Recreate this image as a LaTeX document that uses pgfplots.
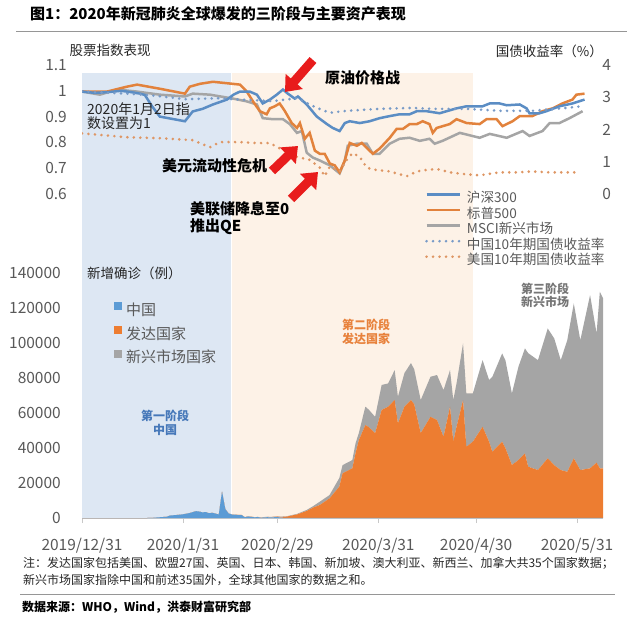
\documentclass[border=0pt]{standalone}
\usepackage{fontspec}
\setmainfont{Noto Sans CJK SC}
\usepackage{pgfplots}
\pgfplotsset{compat=1.18}
\usepackage{pgfplotstable}
\usetikzlibrary{arrows.meta}

\definecolor{hsblue}{RGB}{91,141,196}
\definecolor{spor}{RGB}{226,130,60}
\definecolor{msgray}{RGB}{165,165,165}
\definecolor{cnyld}{RGB}{120,155,200}
\definecolor{usyld}{RGB}{222,150,100}
\definecolor{cnarea}{RGB}{91,155,213}
\definecolor{dvarea}{RGB}{237,125,49}
\definecolor{emarea}{RGB}{165,165,165}
\definecolor{shblue}{RGB}{221,231,243}
\definecolor{shpeach}{RGB}{253,242,231}
\definecolor{tickgray}{RGB}{89,89,89}
\definecolor{axgray}{RGB}{200,200,200}
\definecolor{arrowred}{RGB}{232,28,28}
\definecolor{ph1}{RGB}{70,120,185}
\definecolor{ph2}{RGB}{232,130,60}
\definecolor{ph3}{RGB}{118,118,118}
\definecolor{rulegray}{RGB}{150,150,150}

\newcommand\ticksize{\fontsize{15.5bp}{18bp}\selectfont}

% stock indices, 2020-01-02 = 1 (x = days after 2019-12-31)
\pgfplotstableread{
day val
0 0.997
4 0.992
8 0.995
12 1.000
15 0.995
17.8 0.989
19.3 0.984
21.5 0.940
23.9 0.900
31.6 0.882
34 0.920
37 0.930
40.2 0.947
44.5 0.966
46.5 0.985
48.5 0.997
51.5 0.997
53.7 0.985
55.5 0.951
57.7 0.966
59.8 0.985
61.7 1.005
63.2 0.989
65.3 0.970
66.3 0.978
69 0.947
72.1 0.900
75.2 0.871
77 0.856
79.1 0.844
80.7 0.875
82.2 0.882
85.3 0.875
88.3 0.882
91.4 0.894
94.5 0.902
97.5 0.909
100.6 0.909
102.8 0.921
105.8 0.921
109.8 0.913
115 0.932
118.1 0.940
123 0.940
125.2 0.951
128.2 0.951
130.4 0.944
134.4 0.947
136.5 0.932
137.4 0.913
140.5 0.913
142.6 0.921
146.6 0.940
150.6 0.951
154.3 0.966
}\hsdata

\pgfplotstableread{
day val
0 0.997
7.7 0.997
13.8 1.016
16.9 1.024
23.9 1.008
31.6 0.989
33.1 1.016
36.2 1.027
40.2 1.035
46.3 1.027
48.5 1.024
50.6 0.997
52.5 0.959
54.6 0.921
56.7 0.909
57.7 0.932
59.2 0.940
60.7 0.951
62.3 0.921
64.4 0.875
66 0.856
66.9 0.875
68.4 0.814
69.9 0.837
71.5 0.768
73 0.756
74.5 0.756
76.1 0.718
77.6 0.711
79.1 0.684
80.7 0.730
82.2 0.798
84.4 0.787
85.9 0.798
87.4 0.779
89.3 0.756
91.4 0.776
94.5 0.818
96.6 0.852
98.5 0.852
100.6 0.871
102.8 0.871
104.6 0.882
106.7 0.871
107.7 0.837
108.9 0.856
112.9 0.871
115 0.890
118.1 0.875
122.1 0.871
124.2 0.890
127.3 0.890
129.1 0.863
132.2 0.882
134.4 0.902
138.3 0.902
141.4 0.921
144.5 0.932
147.5 0.951
150.6 0.966
151.8 0.985
154.3 0.989
}\spdata

\pgfplotstableread{
day val
0 0.997
5.5 0.985
10.7 1.005
16.9 0.997
23.9 0.985
31.6 0.978
34 0.989
39.3 0.985
46.3 0.970
50.6 0.959
53.7 0.947
55.5 0.894
58.6 0.890
61.7 0.890
63.8 0.871
66 0.837
67.5 0.844
69 0.760
70.9 0.741
73 0.730
76.1 0.711
79.1 0.680
80.7 0.730
81.6 0.787
84.4 0.795
87.4 0.795
89.3 0.756
91.4 0.756
94.5 0.795
97.5 0.814
100.6 0.818
103.7 0.806
106.7 0.814
108.3 0.795
110.7 0.806
116 0.837
122.1 0.818
125.2 0.833
130.4 0.818
135.3 0.844
137.4 0.825
141.4 0.844
143.6 0.875
146.6 0.875
149.7 0.894
153.7 0.921
}\msdata

% 10-year government bond yields, %
\pgfplotstableread{
day val
0 3.18
17.8 3.09
23.9 3.03
31.6 2.94
42.3 2.97
46.3 2.94
58.6 2.88
66 2.97
72.1 2.67
76.1 2.52
81.3 2.58
91.4 2.64
101.5 2.67
107.7 2.64
118.1 2.64
128.2 2.58
138.3 2.58
148.8 2.67
154.3 2.73
}\cndata

\pgfplotstableread{
day val
0 1.88
13.8 1.76
23.9 1.73
34 1.67
39.3 1.45
42.3 1.61
48.5 1.61
53.7 1.58
57.7 1.58
61.7 1.36
66 1.15
69.9 1.06
73 0.82
74.5 0.55
76.1 0.85
79.1 0.70
81.3 1.06
83.1 1.27
85.3 1.15
87.4 0.82
89.3 0.76
94.5 0.70
99.7 0.55
102.8 0.70
106.7 0.76
109.8 0.76
112.9 0.67
118.1 0.61
122.1 0.58
128.2 0.67
133.4 0.67
138.3 0.70
143.6 0.67
148.8 0.67
152.8 0.67
}\usdata

% daily new confirmed cases
\pgfplotstableread{
day cn dev em
0 0 0 0
20 0 0 0
22 150 0 0
24 450 0 0
26 700 0 0
27 1400 0 0
29 1700 0 0
31 2100 0 0
33 2800 0 0
35 3900 0 0
36 3700 0 0
37 3200 0 0
38 3400 0 0
39 2700 0 0
40 3000 0 0
41 2500 0 0
42 2000 0 0
43 15100 0 0
44 5100 50 0
45 2600 50 0
46 2000 50 0
47 1900 50 0
48 1700 50 0
49 1700 50 0
50 400 50 20
51 900 60 20
52 650 60 20
53 400 80 30
54 500 90 30
55 200 100 50
56 400 120 50
57 450 150 60
58 330 200 80
59 430 250 100
60 570 300 100
61 200 400 150
62 120 600 200
63 50 800 200
64 40 1200 250
66 30 2000 300
69 20 4000 600
71 20 6000 800
73 15 7400 1900
76 15 11200 1900
79 10 17900 4900
80 10 25500 4700
83 10 28400 4700
84 10 37100 5700
85 10 44500 4000
87 10 53100 10500
88 10 52000 10000
90 10 48500 9300
92 10 61700 14300
94 10 63600 13300
96 10 67400 17100
97 10 54100 15200
99 10 63600 19200
101 10 67400 21100
102 10 65000 20000
104 10 48500 18900
107 10 57800 22900
109 10 56000 25700
111 10 46400 26700
113 10 63600 20900
114 10 43600 23800
115 10 52100 24800
117 10 67400 32400
118 10 40700 30500
120 10 43600 27600
123 10 52100 38100
125 10 43600 35200
126 10 37900 42800
129 10 43600 50400
130 10 40000 50200
132 10 30300 40900
134 10 33100 53300
136 10 36900 60000
137 10 29300 64900
140 10 27400 62800
143 10 34100 74200
145 10 30200 72400
147 10 27400 62800
149 10 26400 75200
151 10 34100 88500
153 10 27400 74200
156 10 28400 99000
158 10 31600 73900
159 10 28400 100900
160 10 28400 97100
}\cases

\begin{document}
\begin{tikzpicture}
\useasboundingbox (0bp,0bp) rectangle (636bp,-620bp);

% phase shading behind both panels
\begin{axis}[at={(82bp,-518bp)}, anchor=south west, scale only axis,
  width=521.1bp, height=445bp, xmin=0, xmax=160, ymin=0, ymax=1, hide axis]
  \addplot[fill=shblue, draw=none] coordinates {(0,1) (45.6,1)} \closedcycle;
  \addplot[fill=shpeach, draw=none] coordinates {(46.2,1) (120,1)} \closedcycle;
\end{axis}

% lower panel: new cases
\begin{axis}[at={(82bp,-518bp)}, anchor=south west, scale only axis,
  width=521.1bp, height=245bp, xmin=0, xmax=160, ymin=0, ymax=140000,
  stack plots=y,
  axis x line*=bottom, axis y line*=left,
  y axis line style={draw=none}, x axis line style={draw=axgray, line width=0.8bp},
  ytick={0,20000,40000,60000,80000,100000,120000,140000},
  yticklabels={0,20000,40000,60000,80000,100000,120000,140000},
  scaled y ticks=false,
  ytick style={draw=none},
  xtick={0,31,60,91,121,152},
  xticklabels={2019/12/31,2020/1/31,2020/2/29,2020/3/31,2020/4/30,2020/5/31},
  tick align=outside, major tick length=5bp,
  xtick style={draw=axgray, line width=0.8bp},
  y tick label style={anchor=east, inner sep=0pt, xshift=-16bp, font=\ticksize, text=tickgray},
  x tick label style={anchor=base, inner sep=0pt, yshift=-27.5bp, font=\ticksize, text=tickgray},
  legend style={at={(0.0614,0.8816)}, anchor=north west, draw=none, fill=none,
    inner sep=0pt, row sep=7bp, column sep=4bp,
    font=\fontsize{15bp}{16bp}\selectfont, text=tickgray,
    nodes={inner sep=0pt, text height=11bp, text depth=3.5bp}, cells={anchor=west}},
  legend image code/.code={\fill[#1] (0bp,1.5bp) rectangle (8bp,9.5bp);},
]
  \addplot[fill=cnarea, draw=none] table[x=day, y=cn] {\cases} \closedcycle;
  \addplot[fill=dvarea, draw=none] table[x=day, y=dev] {\cases} \closedcycle;
  \addplot[fill=emarea, draw=none] table[x=day, y=em] {\cases} \closedcycle;
  \legend{中国,发达国家,新兴市场国家}
\end{axis}

% upper panel, left axis: stock indices
\begin{axis}[at={(82bp,-194bp)}, anchor=south west, scale only axis,
  width=521.1bp, height=129bp, xmin=0, xmax=160, ymin=0.6, ymax=1.1,
  axis line style={draw=none}, xtick=\empty, major tick style={draw=none},
  ytick={0.6,0.7,0.8,0.9,1,1.1}, yticklabels={0.6,0.7,0.8,0.9,1,1.1},
  y tick label style={anchor=east, inner sep=0pt, xshift=-15bp, font=\ticksize, text=tickgray},
]
  \addplot[msgray, line width=2.5bp] table[x=day, y=val] {\msdata};
  \addplot[spor, line width=2.5bp] table[x=day, y=val] {\spdata};
  \addplot[hsblue, line width=2.5bp] table[x=day, y=val] {\hsdata};
\end{axis}

% upper panel, right axis: yields
\begin{axis}[at={(82bp,-194bp)}, anchor=south west, scale only axis,
  width=521.1bp, height=129bp, xmin=0, xmax=160, ymin=0, ymax=4,
  axis line style={draw=none}, xtick=\empty, major tick style={draw=none},
  yticklabel pos=right,
  ytick={0,1,2,3,4}, yticklabels={0,1,2,3,4},
  y tick label style={anchor=west, inner sep=0pt, xshift=-1bp, font=\ticksize, text=tickgray},
  legend style={at={(0.658,0.0116)}, anchor=north west, draw=none, fill=none,
    inner sep=0pt, row sep=2.5bp, column sep=6bp,
    font=\fontsize{13.6bp}{15bp}\selectfont, text=tickgray,
    nodes={inner sep=0pt, text height=10bp, text depth=3bp}, cells={anchor=west}},
  legend image code/.code={\draw[#1] (0bp,4.5bp) -- (33bp,4.5bp);},
]
  \addlegendimage{hsblue, line width=2.5bp}
  \addlegendentry{沪深300}
  \addlegendimage{spor, line width=2.5bp}
  \addlegendentry{标普500}
  \addlegendimage{msgray, line width=2.5bp}
  \addlegendentry{MSCI新兴市场}
  \addplot[cnyld, line width=2.9bp, line cap=round, dash pattern=on 0bp off 6.5bp] table[x=day, y=val] {\cndata};
  \addlegendentry{中国10年期国债收益率}
  \addplot[usyld, line width=2.9bp, line cap=round, dash pattern=on 0bp off 6.5bp] table[x=day, y=val] {\usdata};
  \addlegendentry{美国10年期国债收益率}
\end{axis}

% titles, notes and annotations
\node[anchor=west, inner sep=0pt, font=\bfseries\fontsize{15bp}{18bp}\selectfont] at (30bp,-14bp)
  {图1：2020年新冠肺炎全球爆发的三阶段与主要资产表现};
\draw[rulegray, line width=0.8bp] (16bp,-31bp) -- (627bp,-31bp);
\node[inner sep=0pt, font=\fontsize{13.5bp}{15bp}\selectfont, text=black!85] at (110bp,-50bp) {股票指数表现};
\node[anchor=east, inner sep=0pt, font=\fontsize{13.5bp}{15bp}\selectfont, text=black!85] at (603bp,-51bp) {国债收益率（\%）};
\node[anchor=west, inner sep=0pt, font=\fontsize{13.5bp}{15bp}\selectfont, text=black!85] at (87bp,-273bp) {新增确诊（例）};
\node[anchor=west, inner sep=0pt, align=left, font=\fontsize{14bp}{14.5bp}\selectfont, text=black!85] at (87bp,-116bp)
  {2020年1月2日指\\数设置为1};

\node[anchor=west, inner sep=0pt, font=\bfseries\fontsize{15bp}{18bp}\selectfont] at (325bp,-78bp) {原油价格战};
\node[anchor=west, inner sep=0pt, font=\bfseries\fontsize{15bp}{18bp}\selectfont] at (162bp,-166bp) {美元流动性危机};
\node[anchor=west, inner sep=0pt, align=left, font=\bfseries\fontsize{15bp}{17bp}\selectfont] at (190bp,-218.5bp)
  {美联储降息至0\\推出QE};

\draw[arrowred, line width=9bp, -{Triangle[length=14bp, width=22bp]}] (313bp,-60bp) -- (285bp,-92bp);
\draw[arrowred, line width=9bp, -{Triangle[length=14bp, width=22bp]}] (272bp,-171bp) -- (298bp,-146bp);
\draw[arrowred, line width=9bp, -{Triangle[length=14bp, width=22bp]}] (291bp,-199bp) -- (318bp,-172bp);

\node[align=center, inner sep=0pt, font=\bfseries\fontsize{12bp}{13.5bp}\selectfont, text=ph1] at (165bp,-423bp) {第一阶段\\中国};
\node[align=center, inner sep=0pt, font=\bfseries\fontsize{12bp}{13.5bp}\selectfont, text=ph2] at (366bp,-332bp) {第二阶段\\发达国家};
\node[align=center, inner sep=0pt, font=\bfseries\fontsize{12bp}{13.5bp}\selectfont, text=ph3] at (545bp,-295.5bp) {第三阶段\\新兴市场};

\node[anchor=west, inner sep=0pt, font=\fontsize{12bp}{14bp}\selectfont, text=black!85] at (23bp,-563bp)
  {注：发达国家包括美国、欧盟27国、英国、日本、韩国、新加坡、澳大利亚、新西兰、加拿大共35个国家数据；};
\node[anchor=west, inner sep=0pt, font=\fontsize{12bp}{14bp}\selectfont, text=black!85] at (23bp,-580bp)
  {新兴市场国家指除中国和前述35国外，全球其他国家的数据之和。};
\draw[rulegray, line width=0.8bp] (20bp,-594bp) -- (615bp,-594bp);
\node[anchor=west, inner sep=0pt, font=\bfseries\fontsize{12bp}{14bp}\selectfont] at (22bp,-607bp)
  {数据来源：WHO，Wind，洪泰财富研究部};
\end{tikzpicture}
\end{document}
